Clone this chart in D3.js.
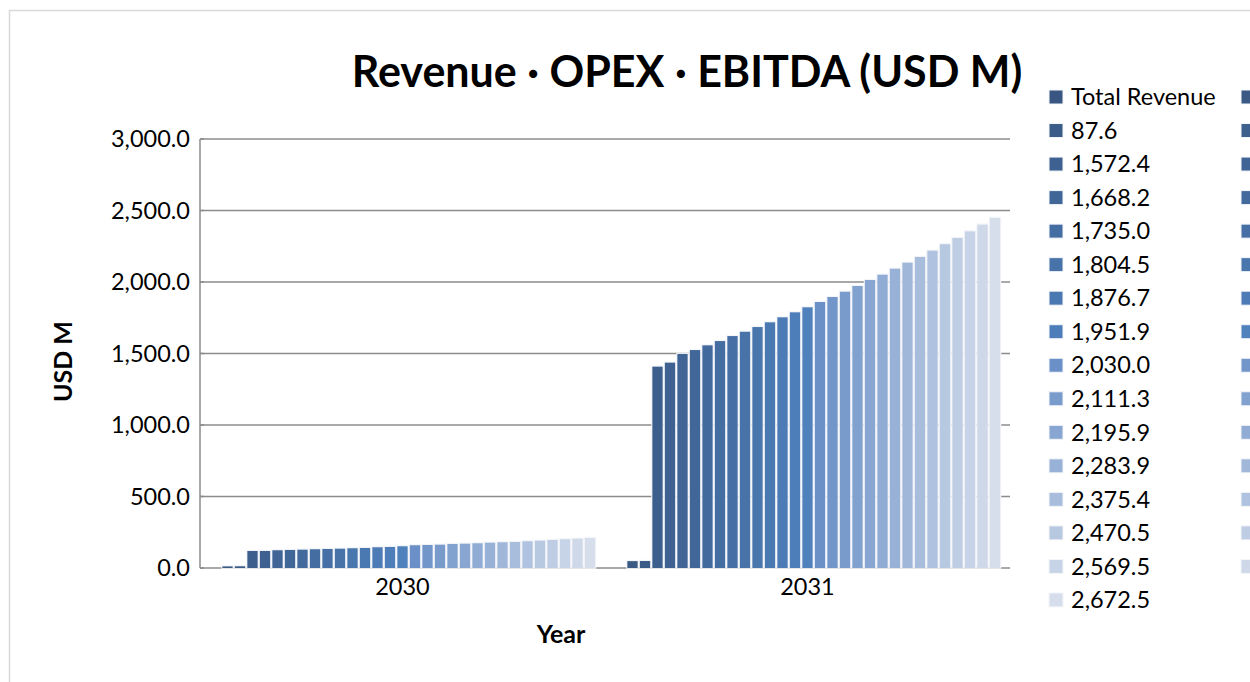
<!DOCTYPE html>
<html>
<head>
<meta charset="utf-8">
<script src="https://cdn.jsdelivr.net/npm/d3@7/dist/d3.min.js"></script>
<style>
  html, body { margin: 0; padding: 0; background: #fff; }
  svg { display: block; font-family: Lato, "Open Sans", sans-serif; }
</style>
</head>
<body>
<svg id="chart" width="1250" height="682"></svg>
<script>
const title = "Revenue · OPEX · EBITDA (USD M)";
const categories = ["2030", "2031"];
const seriesNames = [
  "Total Revenue", "21.9", "87.6", "1,511.9", "1,572.4", "1,635.5", "1,668.2", "1,701.0",
  "1,735.0", "1,769.1", "1,804.5", "1,839.9", "1,876.7", "1,913.6", "1,951.9", "1,990.2",
  "2,030.0", "2,070.0", "2,111.3", "2,152.9", "2,195.9", "2,239.1", "2,283.9", "2,328.7",
  "2,375.4", "2,422.2", "2,470.5", "2,519.2", "2,569.5", "2,620.1", "2,672.5"
];
const values2030 = [null, 11, 12, 119, 119, 124, 126, 128, 131, 133, 135, 138, 140, 145, 147, 152,
  159, 161, 163, 168, 170, 173, 177, 180, 182, 187, 191, 196, 201, 205, 210];
const values2031 = [null, 48, 49, 1408, 1436, 1497, 1524, 1557, 1587, 1622, 1652, 1685, 1718, 1753, 1788, 1823,
  1860, 1895, 1932, 1972, 2014, 2051, 2093, 2135, 2175, 2219, 2264, 2308, 2354, 2401, 2448];
const yTicks = [0, 500, 1000, 1500, 2000, 2500, 3000];
const yLabel = "USD M";
const xLabel = "Year";

const valuesByCat = { "2030": values2030, "2031": values2031 };

const svg = d3.select("#chart");
const pLeft = 200, pRight = 1010, pTop = 139, pBottom = 568;
const FS = 23.5;

// frame
svg.append("rect").attr("x", 9.5).attr("y", 10.5).attr("width", 1300).attr("height", 700)
  .attr("fill", "#fff").attr("stroke", "#d9d9d9").attr("stroke-width", 1.5);

const x0 = d3.scaleBand().domain(categories).range([pLeft, pRight]).padding(0);
const x1 = d3.scaleBand().domain(d3.range(seriesNames.length)).range([0, x0.bandwidth()])
  .paddingInner(0).paddingOuter(0.7);
const y = d3.scaleLinear().domain([0, 3000]).range([pBottom, pTop]);

function colorFor(i) {
  if (i <= 15) return d3.interpolateRgb("#385681", "#4f81bd")(i / 15);
  return d3.interpolateRgb("#6a90c7", "#d6deec")((i - 16) / 14);
}

// gridlines
svg.append("g").selectAll("line").data(yTicks.filter(d => d > 0)).join("line")
  .attr("x1", pLeft).attr("x2", pRight)
  .attr("y1", d => y(d)).attr("y2", d => y(d))
  .attr("stroke", "#8c8c8c").attr("stroke-width", 1.5);

// y axis
const yAxis = d3.axisLeft(y).tickValues(yTicks).tickFormat(d3.format(",.1f")).tickSize(0).tickPadding(10);
const gy = svg.append("g").attr("transform", `translate(${pLeft},0)`).call(yAxis);
gy.select(".domain").remove();
gy.selectAll("text").attr("font-size", FS).attr("fill", "#000").attr("font-family", "Lato, sans-serif");
svg.append("line").attr("x1", pLeft).attr("x2", pLeft).attr("y1", pTop).attr("y2", pBottom)
  .attr("stroke", "#8c8c8c").attr("stroke-width", 1.5);
svg.append("g").selectAll("line").data(yTicks).join("line")
  .attr("x1", pLeft).attr("x2", pLeft + 4).attr("y1", d => y(d)).attr("y2", d => y(d))
  .attr("stroke", "#8c8c8c").attr("stroke-width", 1.5);

// x baseline
svg.append("line").attr("x1", pLeft).attr("x2", pRight).attr("y1", pBottom).attr("y2", pBottom)
  .attr("stroke", "#8c8c8c").attr("stroke-width", 1.5);

// x axis labels
const xAxis = d3.axisBottom(x0).tickSize(0).tickPadding(10);
const gx = svg.append("g").attr("transform", `translate(0,${pBottom})`).call(xAxis);
gx.select(".domain").remove();
gx.selectAll("text").attr("font-size", FS).attr("fill", "#000").attr("font-family", "Lato, sans-serif");

// bars
const barData = [];
categories.forEach(c => {
  valuesByCat[c].forEach((v, i) => {
    if (v !== null) barData.push({ cat: c, i, v });
  });
});
const bars = svg.append("g").selectAll("g").data(barData).join("g");
// light halo behind each bar
bars.append("rect")
  .attr("x", d => x0(d.cat) + x1(d.i))
  .attr("width", x1.bandwidth())
  .attr("y", d => y(d.v) - 1.2)
  .attr("height", d => y(0) - y(d.v) + 2)
  .attr("fill", "#f4f5f9");
bars.append("rect")
  .attr("x", d => x0(d.cat) + x1(d.i) + 1.1)
  .attr("width", x1.bandwidth() - 2.2)
  .attr("y", d => y(d.v))
  .attr("height", d => y(0) - y(d.v))
  .attr("fill", d => colorFor(d.i));

// title
svg.append("text").attr("x", 687).attr("y", 87).attr("text-anchor", "middle")
  .attr("font-size", 43).attr("font-weight", "bold").attr("fill", "#000").text(title);

// axis titles
svg.append("text").attr("transform", `translate(72,${(pTop + pBottom) / 2 + 8}) rotate(-90)`)
  .attr("text-anchor", "middle").attr("font-size", 25).attr("font-weight", "bold").text(yLabel);
svg.append("text").attr("x", 561).attr("y", 643).attr("text-anchor", "middle")
  .attr("font-size", 25).attr("font-weight", "bold").text(xLabel);

// legend (row-major, 2 columns)
const legX = [1049, 1241], legY0 = 97, legStep = 33.53;
const leg = svg.append("g").selectAll("g").data(seriesNames).join("g")
  .attr("transform", (d, i) => `translate(${legX[i % 2]},${legY0 + Math.floor(i / 2) * legStep})`);
leg.append("rect").attr("x", 0).attr("y", -7).attr("width", 14).attr("height", 14)
  .attr("fill", (d, i) => colorFor(i)).attr("stroke", "#f4f5f9").attr("stroke-width", 1);
leg.append("text").attr("x", 22).attr("y", 0).attr("dy", "0.35em")
  .attr("font-size", FS).attr("fill", "#000").text(d => d);
</script>
</body>
</html>
